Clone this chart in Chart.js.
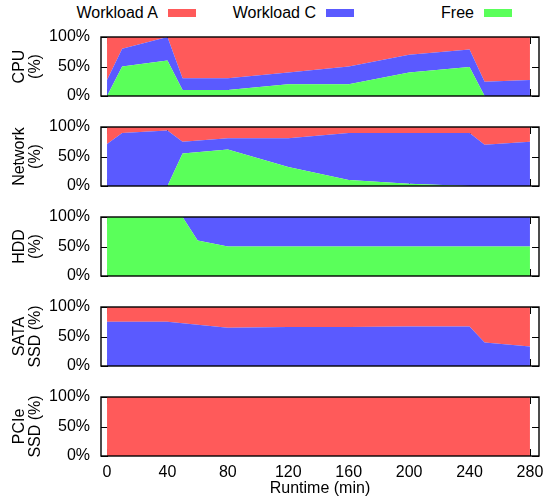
<!DOCTYPE html>
<html>
<head>
<meta charset="utf-8">
<script src="https://cdn.jsdelivr.net/npm/chart.js@4/dist/chart.umd.min.js"></script>
<style>
  html, body { margin: 0; padding: 0; background: #fff; }
  body { width: 558px; height: 501px; position: relative; overflow: hidden; font-family: "Liberation Sans", Arial, sans-serif; }
  canvas { position: absolute; left: 0; }
  .lg-text { position: absolute; font-size: 16px; line-height: 16px; color: #000; text-align: right; white-space: nowrap; }
  .lg-box { position: absolute; width: 28px; height: 8px; }
</style>
</head>
<body>
<div id="legend"></div>
<canvas id="c0" width="558" height="97"></canvas>
<canvas id="c1" width="558" height="97"></canvas>
<canvas id="c2" width="558" height="97"></canvas>
<canvas id="c3" width="558" height="97"></canvas>
<canvas id="c4" width="558" height="123"></canvas>
<script>
// ---------- data ----------
const seriesNames = ['Workload A', 'Workload C', 'Free'];
const seriesColors = ['#ff5a5a', '#5a5aff', '#5aff5a'];

const xTicks = [0, 40, 80, 120, 160, 200, 240, 280];
const yTicks = [0, 50, 100];
const xTitle = 'Runtime (min)';

const cpuTitle = ['CPU', '(%)'];
const cpuTime = [0, 10, 40, 50, 80, 120, 160, 200, 240, 250, 280];
const cpuA    = [73, 20, 0, 70, 70, 60, 50, 30, 21, 76, 73];
const cpuC    = [27, 30, 40, 20, 20, 20, 30, 30, 30, 24, 27];
const cpuFree = [0, 50, 60, 10, 10, 20, 20, 40, 49, 0, 0];

const netTitle = ['Network', '(%)'];
const netTime = [0, 10, 40, 50, 80, 120, 160, 200, 240, 250, 280];
const netA    = [29, 10, 6, 25, 19, 19, 10, 10, 10, 30, 25];
const netC    = [71, 90, 94, 20, 19, 49, 80, 86, 90, 70, 75];
const netFree = [0, 0, 0, 55, 62, 32, 10, 4, 0, 0, 0];

const hddTitle = ['HDD', '(%)'];
const hddTime = [0, 10, 40, 50, 60, 80, 120, 160, 200, 240, 250, 280];
const hddA    = [0, 0, 0, 0, 0, 0, 0, 0, 0, 0, 0, 0];
const hddC    = [0, 0, 0, 0, 40, 50, 50, 50, 50, 50, 50, 50];
const hddFree = [100, 100, 100, 100, 60, 50, 50, 50, 50, 50, 50, 50];

const sataTitle = ['SATA', 'SSD (%)'];
const sataTime = [0, 10, 40, 80, 120, 160, 200, 240, 250, 280];
const sataA    = [25, 25, 25, 35, 34, 34, 33, 33, 60, 67];
const sataC    = [75, 75, 75, 65, 66, 66, 67, 67, 40, 33];
const sataFree = [0, 0, 0, 0, 0, 0, 0, 0, 0, 0];

const pcieTitle = ['PCIe', 'SSD (%)'];
const pcieTime = [0, 280];
const pcieA    = [100, 100];
const pcieC    = [0, 0];
const pcieFree = [0, 0];

// ---------- build ----------
const FONT = "'Liberation Sans', Arial, sans-serif";

const legend = document.getElementById('legend');
seriesNames.forEach((name, i) => {
  const colRight = 158 * (i + 1);
  const t = document.createElement('div');
  t.className = 'lg-text';
  t.textContent = name;
  t.style.right = (558 - colRight) + 'px';
  t.style.top = '5px';
  legend.appendChild(t);
  const b = document.createElement('div');
  b.className = 'lg-box';
  b.style.left = (colRight + 10) + 'px';
  b.style.top = '9px';
  b.style.background = seriesColors[i];
  legend.appendChild(b);
});

const panels = [
  { title: cpuTitle,  time: cpuTime,  A: cpuA,  C: cpuC,  F: cpuFree },
  { title: netTitle,  time: netTime,  A: netA,  C: netC,  F: netFree },
  { title: hddTitle,  time: hddTime,  A: hddA,  C: hddC,  F: hddFree },
  { title: sataTitle, time: sataTime, A: sataA, C: sataC, F: sataFree },
  { title: pcieTitle, time: pcieTime, A: pcieA, C: pcieC, F: pcieFree }
];

const framePlugin = {
  id: 'frame',
  beforeDatasetsDraw(chart) {
    const { ctx, chartArea: a, scales } = chart;
    const x = scales.x, y = scales.y;
    ctx.save();
    ctx.strokeStyle = '#000';
    ctx.lineWidth = 1;
    ctx.beginPath();
    yTicks.forEach(v => {
      const py = Math.round(y.getPixelForValue(v)) + 0.5;
      ctx.moveTo(a.left, py); ctx.lineTo(a.left + 7, py);
      ctx.moveTo(a.right, py); ctx.lineTo(a.right - 7, py);
    });
    xTicks.forEach(v => {
      const px = Math.round(x.getPixelForValue(v)) + 0.5;
      ctx.moveTo(px, a.bottom); ctx.lineTo(px, a.bottom - 7);
      ctx.moveTo(px, a.top); ctx.lineTo(px, a.top + 7);
    });
    ctx.stroke();
    ctx.restore();
  },
  afterDatasetsDraw(chart) {
    const { ctx, chartArea: a } = chart;
    ctx.save();
    ctx.strokeStyle = '#000';
    ctx.lineWidth = 1.4;
    ctx.strokeRect(a.left, a.top, a.right - a.left, a.bottom - a.top);
    ctx.restore();
  },
  afterDraw(chart, args, opts) {
    // rotated two-line y-axis title
    const { ctx, chartArea: a } = chart;
    const lines = opts.lines || [];
    const cy = (a.top + a.bottom) / 2;
    ctx.save();
    ctx.fillStyle = '#000';
    ctx.font = '16px ' + FONT;
    ctx.textAlign = 'center';
    ctx.textBaseline = 'middle';
    lines.forEach((ln, i) => {
      ctx.save();
      ctx.translate(20 + 16 * i, cy);
      ctx.rotate(-Math.PI / 2);
      ctx.fillText(ln, 0, 0);
      ctx.restore();
    });
    ctx.restore();
  }
};

function pts(time, vals) { return time.map((t, i) => ({ x: t, y: vals[i] })); }

panels.forEach((p, idx) => {
  const isLast = idx === panels.length - 1;
  const canvas = document.getElementById('c' + idx);
  canvas.style.top = (18 + 90 * idx) + 'px';
  const order = [p.F, p.C, p.A];      // stacked bottom -> top
  const colorIdx = [2, 1, 0];
  const datasets = order.map((vals, k) => ({
    label: seriesNames[colorIdx[k]],
    data: pts(p.time, vals),
    backgroundColor: seriesColors[colorIdx[k]],
    borderColor: seriesColors[colorIdx[k]],
    borderWidth: 0,
    pointRadius: 0,
    tension: 0,
    fill: k === 0 ? 'origin' : '-1'
  }));
  new Chart(canvas, {
    type: 'line',
    data: { datasets },
    plugins: [framePlugin],
    options: {
      responsive: false,
      animation: false,
      devicePixelRatio: 1,
      layout: { padding: { left: 0, right: 19, top: 19, bottom: isLast ? 0 : 19 } },
      plugins: { legend: { display: false }, tooltip: { enabled: false }, frame: { lines: p.title } },
      scales: {
        x: {
          type: 'linear', min: -4, max: 286,
          display: isLast,
          grid: { display: false, drawTicks: false },
          border: { display: false },
          afterBuildTicks: s => { s.ticks = xTicks.map(v => ({ value: v })); },
          afterFit: s => { if (isLast) s.height = 45; },
          ticks: { padding: 9, color: '#000', font: { family: FONT, size: 16, lineHeight: 1 }, maxRotation: 0, autoSkip: false },
          title: { display: true, text: xTitle, color: '#000', font: { family: FONT, size: 16, lineHeight: 1 }, padding: { top: 0, bottom: 4 } }
        },
        y: {
          stacked: true, min: 0, max: 100,
          grid: { display: false, drawTicks: false },
          border: { display: false },
          afterBuildTicks: s => { s.ticks = yTicks.map(v => ({ value: v })); },
          afterFit: s => { s.width = 101; },
          ticks: { padding: 11, color: '#000', font: { family: FONT, size: 16, lineHeight: 1 }, callback: v => v + '%' },
          title: { display: false }
        }
      }
    }
  });
});
</script>
</body>
</html>
